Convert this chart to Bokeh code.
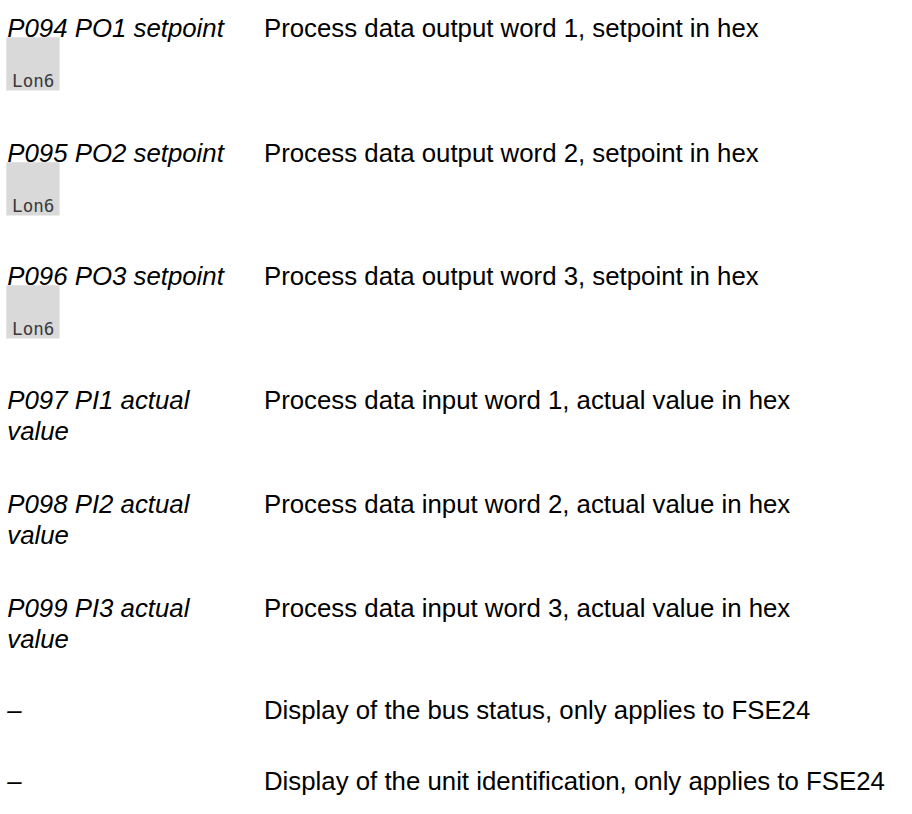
from bokeh.plotting import figure
from bokeh.models import ColumnDataSource, Range1d
from bokeh.core.properties import value
from bokeh.embed import file_html
from bokeh.resources import INLINE

# ---- data (text content of the table) ----
param_labels = [
    "P094 PO1 setpoint",
    "P095 PO2 setpoint",
    "P096 PO3 setpoint",
    "P097 PI1 actual\nvalue",
    "P098 PI2 actual\nvalue",
    "P099 PI3 actual\nvalue",
    "\u2013",
    "\u2013",
]
descriptions = [
    "Process data output word 1, setpoint in hex",
    "Process data output word 2, setpoint in hex",
    "Process data output word 3, setpoint in hex",
    "Process data input word 1, actual value in hex",
    "Process data input word 2, actual value in hex",
    "Process data input word 3, actual value in hex",
    "Display of the bus status, only applies to FSE24",
    "Display of the unit identification, only applies to FSE24",
]
display_codes = ["Lon6", "Lon6", "Lon6", "", "", "", "", ""]

# ---- layout (data units = reference pixels, figure scaled to fit) ----
W, H = 896, 798
REF_W, REF_H = 925, 824
row_baseline = [28, 157, 284, 413, 520, 627, 733, 806]
line_gap = 32
x_left, x_right = 7, 272
font_px = "25.8px"

p = figure(width=W, height=H, output_backend="svg", toolbar_location=None,
           x_range=Range1d(0, REF_W), y_range=Range1d(REF_H, 0),
           min_border=0, background_fill_color="white",
           border_fill_color="white", outline_line_color=None)
p.axis.visible = False
p.grid.visible = False

lx, ly, lt = [], [], []
for lab, yb in zip(param_labels, row_baseline):
    for k, part in enumerate(lab.split("\n")):
        lx.append(x_left)
        ly.append(yb + k * line_gap)
        lt.append(part)

left_src = ColumnDataSource(dict(x=lx, y=ly, t=lt))
right_src = ColumnDataSource(dict(x=[x_right] * len(descriptions),
                                  y=row_baseline, t=descriptions))

bx_l, bx_r, bx_t, bx_b, cx, cy, ct = [], [], [], [], [], [], []
for code, yb in zip(display_codes, row_baseline):
    if code:
        top = yb + 10
        bx_l.append(6); bx_r.append(61); bx_t.append(top); bx_b.append(top + 55)
        cx.append(12); cy.append(top + 45); ct.append(code)

p.quad(left=bx_l, right=bx_r, top=bx_t, bottom=bx_b,
       fill_color="#d9d9d9", line_color=None)
p.text(x=cx, y=cy, text=ct, text_font=value("DejaVu Sans Mono"),
       text_font_size="17.5px", text_color="#3a3a3a",
       text_baseline="alphabetic", text_align="left")

p.text(x="x", y="y", text="t", source=left_src,
       text_font=value("Liberation Sans"), text_font_style="italic",
       text_font_size=font_px, text_color="black",
       text_baseline="alphabetic", text_align="left")
p.text(x="x", y="y", text="t", source=right_src,
       text_font=value("Liberation Sans"),
       text_font_size=font_px, text_color="black",
       text_baseline="alphabetic", text_align="left")

open("out.html", "w").write(file_html(p, INLINE))
